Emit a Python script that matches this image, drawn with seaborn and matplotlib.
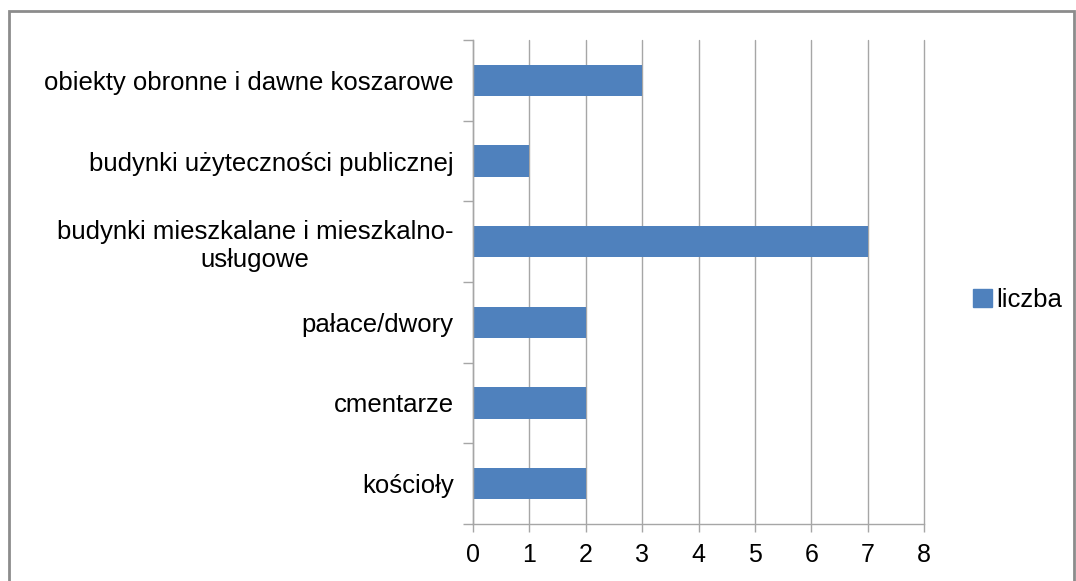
import pandas as pd
import matplotlib.pyplot as plt
import matplotlib.patches as mpatches
import seaborn as sns


sns.set_style("white")
plt.rcParams['font.family'] = ['Liberation Sans', 'DejaVu Sans']


categories = [
    'obiekty obronne i dawne koszarowe',
    'budynki użyteczności publicznej',
    'budynki mieszkalane i mieszkalno-\nusługowe',
    'pałace/dwory',
    'cmentarze',
    'kościoły',
]
counts = [3, 1, 7, 2, 2, 2]
series_name = 'liczba'
x_ticks = [0, 1, 2, 3, 4, 5, 6, 7, 8]

df = pd.DataFrame({'kategoria': categories, series_name: counts})

grid_col = '#a6a6a6'
bar_col = '#4f81bd'

fig = plt.figure(figsize=(10.76, 5.81), dpi=100)
ax = fig.add_axes([473 / 1076, 1 - 524 / 581, (924 - 473) / 1076, (524 - 40) / 581])

sns.barplot(x=series_name, y='kategoria', data=df, color=bar_col, width=0.39,
            saturation=1, errorbar=None, ax=ax, linewidth=0)

ax.set_xlim(0, 8)
ax.set_ylim(5.5, -0.5)
ax.set_xticks(x_ticks)
ax.set_xlabel('')
ax.set_ylabel('')
ax.grid(axis='x', color=grid_col, linewidth=1)
ax.set_axisbelow(True)
for gl in ax.get_xgridlines():
    gl.set_clip_on(False)

for s in ['top', 'right']:
    ax.spines[s].set_visible(False)
for s in ['left', 'bottom']:
    ax.spines[s].set_color(grid_col)
    ax.spines[s].set_linewidth(1)

ax.set_yticks([i - 0.5 for i in range(len(categories) + 1)], minor=True)
ax.tick_params(axis='y', which='major', left=False, length=0, pad=14, labelsize=18.5,
               labelcolor='black')
ax.tick_params(axis='y', which='minor', left=True, length=7, color=grid_col, width=1)
ax.tick_params(axis='x', which='major', bottom=True, length=6, color=grid_col, width=1,
               pad=8, labelsize=18, labelcolor='black')
for lbl in ax.get_yticklabels():
    lbl.set_multialignment('center')

handle = mpatches.Patch(color=bar_col, label=series_name)
fig.legend(handles=[handle], loc='center left', bbox_to_anchor=(960 / 1076, 1 - 300 / 581),
           frameon=False, fontsize=18.5, handlelength=0.75, handleheight=0.75,
           handletextpad=0.15, borderpad=0, labelcolor='black')

fig.patches.append(mpatches.Rectangle((9 / 1076, -0.05), (1074 - 9) / 1076, 1 - 11 / 581 + 0.05,
                                      transform=fig.transFigure, fill=False,
                                      edgecolor='#8c8c8c', linewidth=2))

plt.savefig('out.png', dpi=100)
